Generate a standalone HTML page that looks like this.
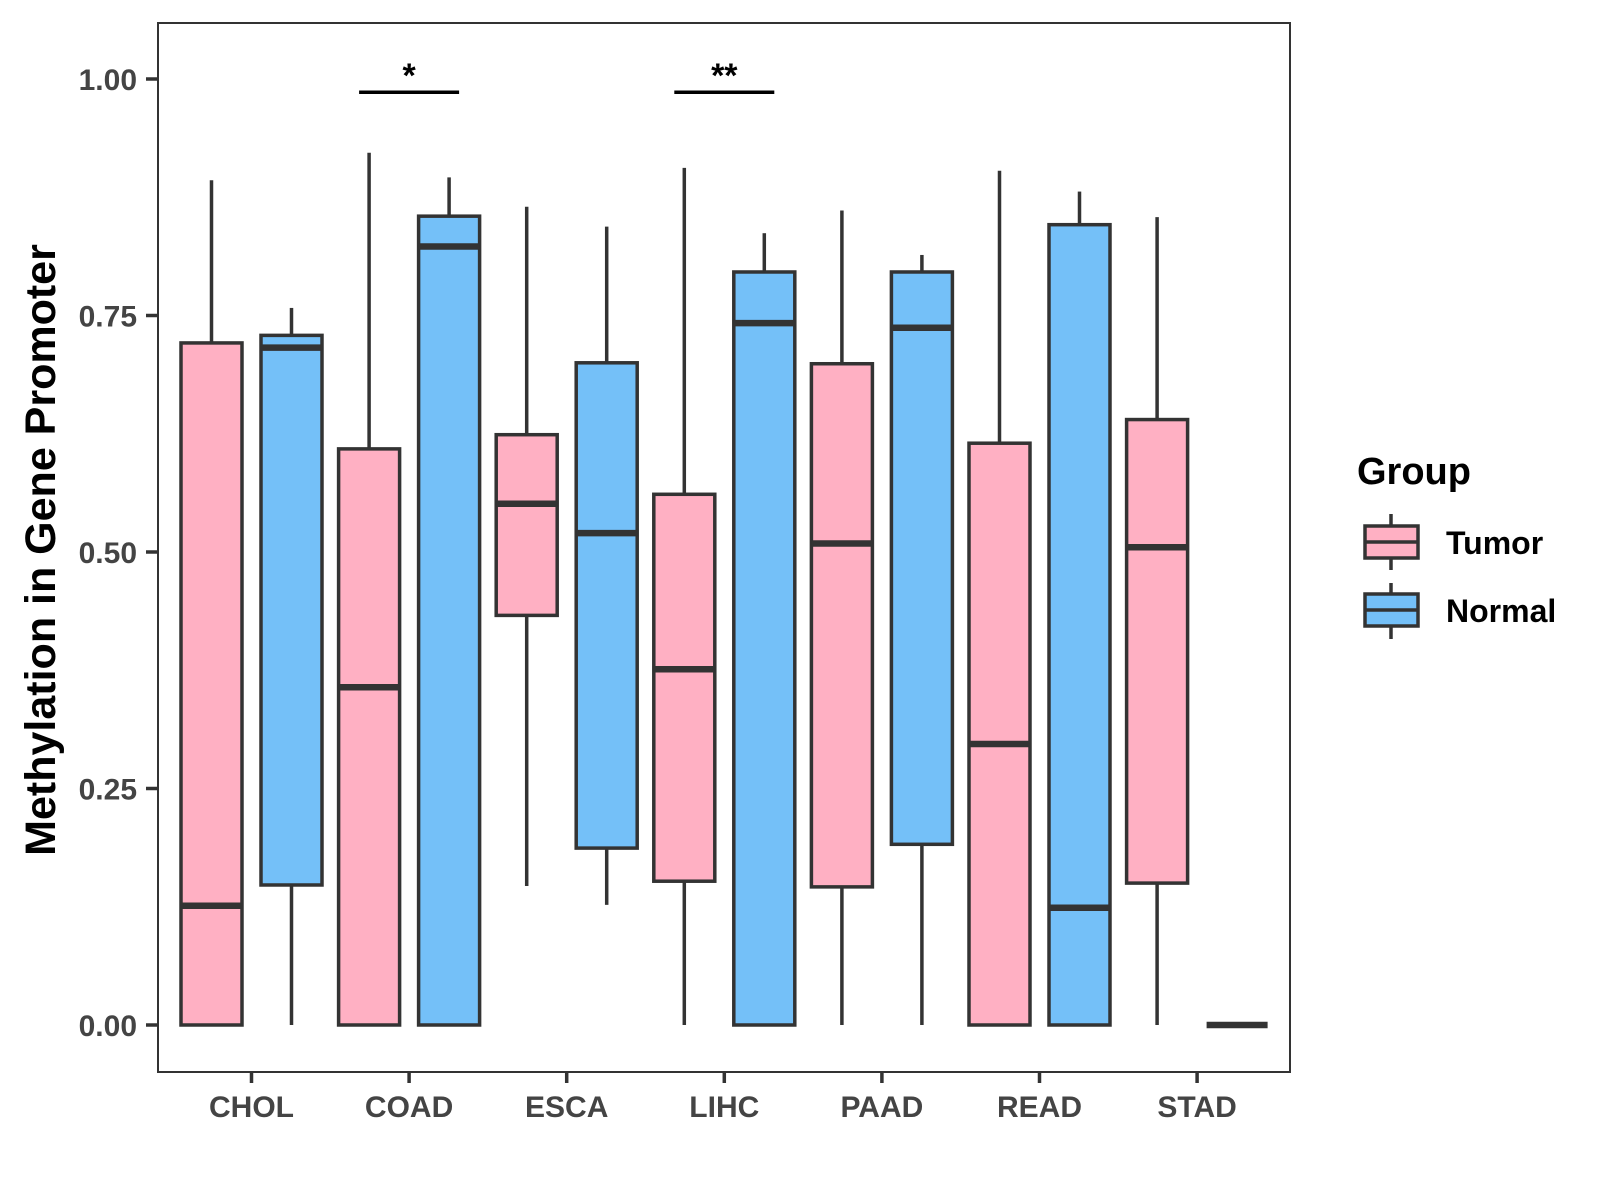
<!DOCTYPE html>
<html><head><meta charset="utf-8"><style>
html,body{margin:0;padding:0;background:#fff;width:1600px;height:1200px;overflow:hidden}
svg{font-family:"Liberation Sans",Arial,sans-serif}
</style></head><body>
<svg id="chart" width="1600" height="1200" viewBox="0 0 1600 1200">
<rect x="0" y="0" width="1600" height="1200" fill="#fff"/>
<g id="plot"></g>
<rect x="158" y="23" width="1132" height="1049" fill="none" stroke="#333" stroke-width="2"/>
<text transform="translate(55,550) rotate(-90)" text-anchor="middle" font-size="43" font-weight="bold" fill="#000">Methylation in Gene Promoter</text>
<g>
<text x="1357" y="484" font-size="38" font-weight="bold" fill="#000">Group</text>
<g>
<line x1="1391" y1="514" x2="1391" y2="570" stroke="#333" stroke-width="3.5"/>
<rect x="1365" y="526" width="53" height="32" fill="#FFB0C3" stroke="#333" stroke-width="3.5"/>
<line x1="1365" y1="542" x2="1418" y2="542" stroke="#333" stroke-width="3.5"/>
<text x="1446" y="554" font-size="32" font-weight="bold" fill="#000">Tumor</text>
</g>
<g>
<line x1="1391" y1="583" x2="1391" y2="639" stroke="#333" stroke-width="3.5"/>
<rect x="1365" y="594" width="53" height="32" fill="#74C0F8" stroke="#333" stroke-width="3.5"/>
<line x1="1365" y1="610" x2="1418" y2="610" stroke="#333" stroke-width="3.5"/>
<text x="1446" y="622" font-size="32" font-weight="bold" fill="#000">Normal</text>
</g>
</g>
</svg>
<script>
const categories = ["CHOL","COAD","ESCA","LIHC","PAAD","READ","STAD"];
const tumorLow = [0,0,0.147,0,0,0,0];
const tumorQ1 = [0,0,0.433,0.152,0.146,0,0.150];
const tumorMed = [0.126,0.357,0.551,0.376,0.509,0.297,0.505];
const tumorQ3 = [0.721,0.609,0.624,0.561,0.699,0.615,0.640];
const tumorHigh = [0.893,0.922,0.865,0.906,0.861,0.903,0.854];
const normalLow = [0,0,0.127,0,0,0,0];
const normalQ1 = [0.148,0,0.187,0,0.191,0,0];
const normalMed = [0.716,0.823,0.520,0.742,0.737,0.124,0];
const normalQ3 = [0.729,0.855,0.700,0.796,0.796,0.846,0];
const normalHigh = [0.758,0.896,0.844,0.837,0.814,0.881,0];
const yTicks = [0,0.25,0.5,0.75,1.0];
const yTickLabels = ["0.00","0.25","0.50","0.75","1.00"];
const sigCategories = ["COAD","LIHC"];
const sigLabels = ["*","**"];
const sigLevel = 0.986;

const NS="http://www.w3.org/2000/svg";
const g=document.getElementById('plot');
function yS(v){return 1025-946*v;}
function xS(i){return 251.5+157.6*i;}
function mk(tag,attrs,parent){const e=document.createElementNS(NS,tag);for(const k in attrs)e.setAttribute(k,attrs[k]);(parent||g).appendChild(e);return e;}
const C="#333";
yTicks.forEach((t,i)=>{
  const tk=mk('line',{x1:146,x2:158,y1:yS(t),y2:yS(t),stroke:C,'stroke-width':3.5});
  
  
  const tx=mk('text',{x:137,y:yS(t)+11,'text-anchor':'end','font-size':30,'font-weight':'bold',fill:'#444'});
  tx.textContent=yTickLabels[i];
  
  
});
const W=61, off=40;
function box(cx,lo,q1,md,q3,hi,fill,name){
  const gg=mk('g',{});
  
  
  mk('line',{x1:cx,x2:cx,y1:yS(hi),y2:yS(q3),stroke:C,'stroke-width':3.5},gg);
  mk('line',{x1:cx,x2:cx,y1:yS(q1),y2:yS(lo),stroke:C,'stroke-width':3.5},gg);
  const h=Math.max(yS(q1)-yS(q3),0);
  mk('rect',{x:cx-W/2,y:yS(q3),width:W,height:h,fill:fill,stroke:C,'stroke-width':3.5},gg);
  mk('line',{x1:cx-W/2,x2:cx+W/2,y1:yS(md),y2:yS(md),stroke:C,'stroke-width':6.5},gg);
}
categories.forEach((c,i)=>{
  const cx=xS(i);
  box(cx-off,tumorLow[i],tumorQ1[i],tumorMed[i],tumorQ3[i],tumorHigh[i],'#FFB0C3','box-tumor-'+c.toLowerCase());
  box(cx+off,normalLow[i],normalQ1[i],normalMed[i],normalQ3[i],normalHigh[i],'#74C0F8','box-normal-'+c.toLowerCase());
  const tk=mk('line',{x1:cx,x2:cx,y1:1072,y2:1083,stroke:C,'stroke-width':3.5});
  
  
  const tx=mk('text',{x:cx,y:1117,'text-anchor':'middle','font-size':30,'font-weight':'bold',fill:'#444'});
  tx.textContent=c;
  
  
});
sigCategories.forEach((c,k)=>{
  const i=categories.indexOf(c);const cx=xS(i);
  const ln=mk('line',{x1:cx-50,x2:cx+50,y1:yS(sigLevel),y2:yS(sigLevel),stroke:'#000','stroke-width':3.5});
  
  
  const t=mk('text',{x:cx,y:yS(sigLevel)-5,'text-anchor':'middle','font-size':34,'font-weight':'bold',fill:'#000'});
  t.textContent=sigLabels[k];
  
  
});
</script>
</body></html>
